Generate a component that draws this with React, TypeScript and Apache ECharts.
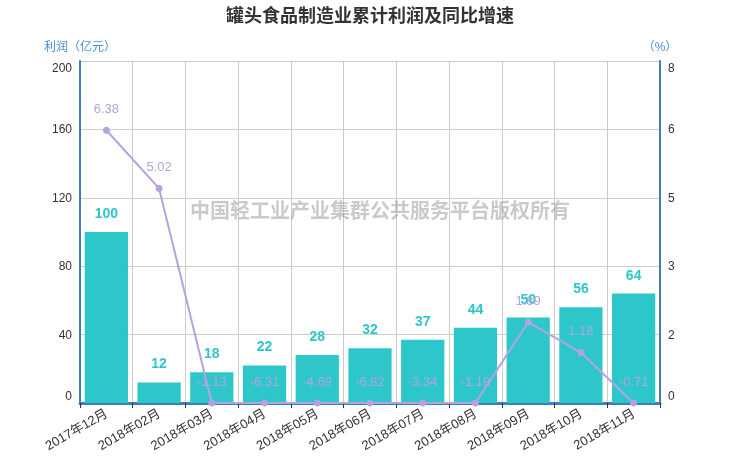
import React, { useEffect, useRef } from "react";
import * as echarts from "echarts";

const categories = [
  "2017年12月", "2018年02月", "2018年03月", "2018年04月", "2018年05月", "2018年06月",
  "2018年07月", "2018年08月", "2018年09月", "2018年10月", "2018年11月",
];
const profit = [100, 12, 18, 22, 28, 32, 37, 44, 50, 56, 64];
const growth = [6.38, 5.02, -1.13, -6.31, -4.69, -6.82, -3.34, -1.18, 1.89, 1.18, -0.71];

const titleText = "罐头食品制造业累计利润及同比增速";
const watermarkText = "中国轻工业产业集群公共服务平台版权所有";
const leftAxisName = "利润（亿元）";
const rightAxisName = "（%）";

const FONT = '"Liberation Sans", "Noto Sans CJK SC", sans-serif';

const edgeRich = {
  top: { color: "#333", fontSize: 12, padding: [14, 0, 0, 0] },
  bot: { color: "#333", fontSize: 12, padding: [0, 0, 14, 0] },
};

export default function App() {
  const ref = useRef<HTMLDivElement>(null);
  useEffect(() => {
    if (!ref.current) return;
    const chart = echarts.init(ref.current, undefined, { renderer: "svg" });
    const axisBlue = "#3b7fbf";
    const edgeFormatter = (maxV: number, fmt: (v: number) => string) => (v: number) => {
      const s = fmt(v);
      if (Math.abs(v - maxV) < 1e-9) return `{top|${s}}`;
      if (Math.abs(v) < 1e-9) return `{bot|${s}}`;
      return s;
    };
    chart.setOption({
      animation: false,
      textStyle: { fontFamily: FONT },
      title: {
        text: titleText,
        left: "center",
        top: 2,
        textStyle: { fontSize: 18, fontWeight: "bold", color: "#333", fontFamily: FONT },
      },
      graphic: [
        {
          type: "text",
          left: 190,
          top: 201,
          silent: true,
          z: 100,
          style: {
            text: watermarkText,
            fill: "rgba(150,150,150,0.5)",
            font: `bold 20px ${FONT}`,
          },
        },
      ],
      grid: { left: 80, right: 80, top: 61, bottom: 59, containLabel: false },
      xAxis: {
        type: "category",
        data: categories,
        boundaryGap: true,
        axisLine: { lineStyle: { color: axisBlue, width: 3 } },
        axisTick: { show: true, lineStyle: { color: "#333" } },
        axisLabel: { rotate: 30, color: "#333", fontSize: 13, margin: 9 },
        splitLine: { show: true, lineStyle: { color: "#ccc" } },
      },
      yAxis: [
        {
          type: "value",
          min: 0,
          max: 200,
          interval: 40,
          name: leftAxisName,
          nameLocation: "end",
          nameGap: 8,
          nameTextStyle: { color: "#4a8fd0", fontSize: 12 },
          axisLine: { show: true, lineStyle: { color: axisBlue, width: 2 } },
          axisTick: { show: false },
          axisLabel: {
            color: "#333",
            fontSize: 12,
            formatter: edgeFormatter(200, (v) => String(v)),
            rich: edgeRich,
          },
          splitLine: { show: true, lineStyle: { color: "#ccc" } },
        },
        {
          type: "value",
          min: 0,
          max: 8,
          interval: 1.6,
          name: rightAxisName,
          nameLocation: "end",
          nameGap: 8,
          nameTextStyle: { color: "#4a8fd0", fontSize: 12 },
          axisLine: { show: true, lineStyle: { color: axisBlue, width: 2 } },
          axisTick: { show: false },
          axisLabel: {
            color: "#333",
            fontSize: 12,
            formatter: edgeFormatter(8, (v) => v.toFixed(0)),
            rich: edgeRich,
          },
          splitLine: { show: false },
        },
      ],
      series: [
        {
          type: "bar",
          name: "利润",
          data: profit,
          barCategoryGap: "18%",
          itemStyle: { color: "#2ec7c9" },
          label: {
            show: true,
            position: "top",
            distance: 12,
            color: "#2ec7c9",
            fontWeight: "bold",
            fontSize: 14,
          },
        },
        {
          type: "line",
          name: "同比增速",
          yAxisIndex: 1,
          data: growth.map((v) => Math.max(v, 0)),
          symbol: "circle",
          symbolSize: 7,
          lineStyle: { color: "#b6a2de", width: 2 },
          itemStyle: { color: "#b6a2de" },
          label: {
            show: true,
            position: "top",
            distance: 12,
            color: "#b6a2de",
            fontSize: 13,
            formatter: (p: any) => growth[p.dataIndex].toFixed(2),
          },
        },
      ],
    });
    return () => chart.dispose();
  }, []);
  return <div ref={ref} style={{ position: "fixed", left: 0, top: 0, width: 740, height: 462 }} />;
}
